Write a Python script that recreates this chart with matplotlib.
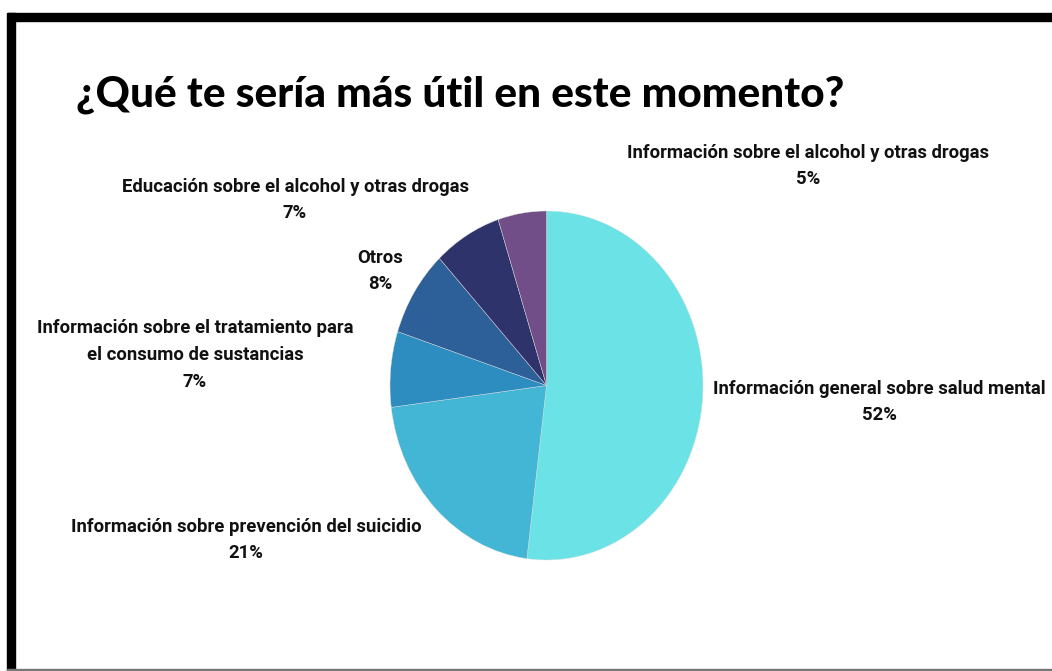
import matplotlib.pyplot as plt
from matplotlib.patches import Rectangle

# data
labels = ['Información general sobre salud mental',
          'Información sobre prevención del suicidio',
          'Información sobre el tratamiento para\nel consumo de sustancias',
          'Otros',
          'Educación sobre el alcohol y otras drogas',
          'Información sobre el alcohol y otras drogas']
values = [52, 21, 7, 8, 7, 5]
colors = ['#6be3e6', '#42b6d4', '#2e8dc0', '#2d5f99', '#2f336b', '#714e87']

W, H = 1052, 671
fig = plt.figure(figsize=(W / 100, H / 100), dpi=100)
fig.patch.set_facecolor('white')


def fx(px):
    return px / W


def fy(py):
    return 1 - py / H


# frame around the slide
fig.patches.append(Rectangle((fx(8), fy(21)), fx(W), 8 / H, transform=fig.transFigure,
                             color='black', zorder=5))
fig.patches.append(Rectangle((fx(7), 0), 8 / W, fy(13), transform=fig.transFigure,
                             color='black', zorder=5))
fig.patches.append(Rectangle((fx(7), 0), fx(W), 2 / H, transform=fig.transFigure,
                             color='#777777', zorder=5))

# pie (slightly taller than wide, like the original)
ax = fig.add_axes([fx(390), fy(560), fx(313), 349 / H])
ax.pie(values, colors=colors, startangle=90, counterclock=False,
       wedgeprops=dict(linewidth=0.3, edgecolor='#dddddd'))
ax.set_aspect('auto')
ax.set_xlim(-1, 1)
ax.set_ylim(-1, 1)

fig.text(fx(76), fy(107), '¿Qué te sería más útil en este momento?', fontsize=30.5,
         fontweight='black', family=['Lato', 'DejaVu Sans'], va='baseline', ha='left')

lab_font = dict(fontsize=13.3, fontweight='bold', family=['Roboto', 'DejaVu Sans'],
                linespacing=1.62, color='#111111')

# label anchor points (pixels) for each slice
pos = [(879, 402), (246, 540), (195, 355), (380, 271), (295, 200), (808, 166)]
for lab, v, (x, y) in zip(labels, values, pos):
    fig.text(fx(x), fy(y), f'{lab}\n{v}%', ha='center', va='center', multialignment='center', **lab_font)

fig.savefig('out.png', dpi=100)
